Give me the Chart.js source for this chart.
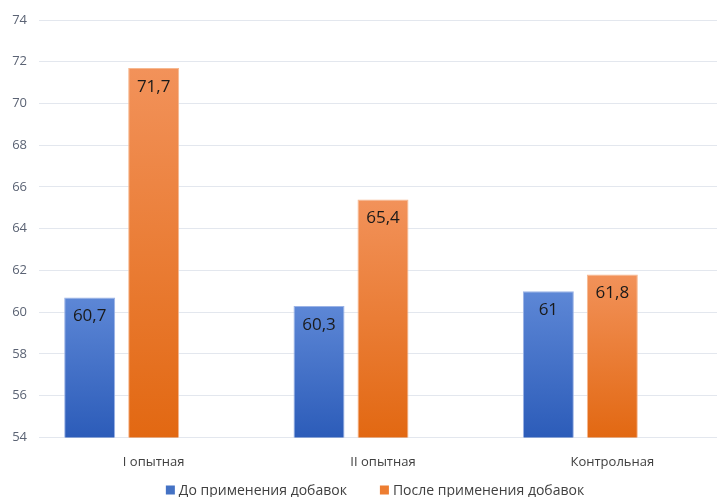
<!DOCTYPE html>
<html lang="ru">
<head>
  <meta charset="UTF-8" />
  <title>До и после применения добавок</title>
  <script src="https://cdn.jsdelivr.net/npm/chart.js"></script>
  <style>
    html, body {
      margin: 0;
      padding: 0;
      background: #fff;
      overflow: hidden;
    }

    #wrap {
      width: 750px;
      height: 497px;
    }
  </style>
</head>
<body>
  <div id="wrap">
    <canvas id="chart"></canvas>
  </div>

  <script>
    const categories = ['I опытная', 'II опытная', 'Контрольная'];
    const before = [60.7, 60.3, 61];
    const after = [71.7, 65.4, 61.8];
    const seriesNames = ['До применения добавок', 'После применения добавок'];
    const yTicks = { min: 54, max: 74, step: 2 };

    const FONT = '"Open Sans", "Noto Sans", sans-serif';

    // градиент по высоте каждого столбца
    function gradient(top, bottom) {
      return function (ctx) {
        const chart = ctx.chart;
        if (!chart.chartArea || ctx.raw == null) return bottom;
        const y = chart.scales.y;
        const y0 = y.getPixelForValue(ctx.raw);
        const y1 = y.getPixelForValue(y.min);
        const g = chart.ctx.createLinearGradient(0, y0, 0, y1);
        g.addColorStop(0, top);
        g.addColorStop(1, bottom);
        return g;
      };
    }

    const colors = [
      { top: '#5d87d6', bottom: '#2c5cb9', border: '#9bb3e6', box: '#4472c4' },
      { top: '#f2925a', bottom: '#e26812', border: '#f6b890', box: '#ed7d31' }
    ];

    const valueLabels = {
      id: 'valueLabels',
      afterDatasetsDraw(chart) {
        const ctx = chart.ctx;
        ctx.save();
        ctx.font = '17px ' + FONT;
        ctx.fillStyle = '#1a1a1a';
        ctx.textAlign = 'center';
        ctx.textBaseline = 'middle';
        chart.data.datasets.forEach((ds, i) => {
          chart.getDatasetMeta(i).data.forEach((bar, j) => {
            const v = ds.data[j];
            if (v == null) return;
            ctx.fillText(String(v).replace('.', ','), bar.x, bar.y + 19);
          });
        });
        ctx.restore();
      }
    };

    const bottomLegend = {
      id: 'bottomLegend',
      afterDraw(chart) {
        const ctx = chart.ctx;
        const items = chart.data.datasets.filter(ds => ds.label);
        ctx.save();
        ctx.font = '14px ' + FONT;
        ctx.textBaseline = 'middle';
        const box = 9, gapBox = 4, gapItem = 33;
        const widths = items.map(ds => box + gapBox + ctx.measureText(ds.label).width);
        const total = widths.reduce((a, b) => a + b, 0) + gapItem * (items.length - 1);
        let x = chart.width / 2 - total / 2;
        const y = 490;
        items.forEach((ds, i) => {
          ctx.fillStyle = ds.legendColor;
          ctx.fillRect(x, y - 4.5, box, box);
          ctx.fillStyle = '#404040';
          ctx.fillText(ds.label, x + box + gapBox, y + 1);
          x += widths[i] + gapItem;
        });
        ctx.restore();
      }
    };

    new Chart(document.getElementById('chart'), {
      type: 'bar',
      data: {
        labels: categories,
        datasets: [
          {
            label: seriesNames[0],
            data: before,
            backgroundColor: gradient(colors[0].top, colors[0].bottom),
            borderColor: colors[0].border,
            borderWidth: 1,
            legendColor: colors[0].box
          },
          {
            label: seriesNames[1],
            data: after,
            backgroundColor: gradient(colors[1].top, colors[1].bottom),
            borderColor: colors[1].border,
            borderWidth: 1,
            legendColor: colors[1].box
          },
          {
            // пустой третий ряд, как в исходной диаграмме
            label: '',
            data: [null, null, null]
          }
        ]
      },
      options: {
        responsive: true,
        maintainAspectRatio: false,
        animation: false,
        categoryPercentage: 0.837,
        barPercentage: 0.797,
        layout: {
          padding: { left: 0, right: 23, top: 20, bottom: 18 }
        },
        scales: {
          x: {
            grid: { display: false },
            border: { display: false },
            ticks: {
              color: '#404040',
              padding: 9,
              font: { family: FONT, size: 13 }
            }
          },
          y: {
            min: yTicks.min,
            max: yTicks.max,
            border: { display: false },
            grid: { color: '#e3e7ee', lineWidth: 1, drawTicks: false },
            afterFit(scale) { scale.width = 39; },
            ticks: {
              stepSize: yTicks.step,
              color: '#5b6374',
              padding: 12,
              font: { family: FONT, size: 13 }
            }
          }
        },
        plugins: {
          legend: { display: false },
          tooltip: { enabled: false }
        }
      },
      plugins: [valueLabels, bottomLegend]
    });
  </script>
</body>
</html>
